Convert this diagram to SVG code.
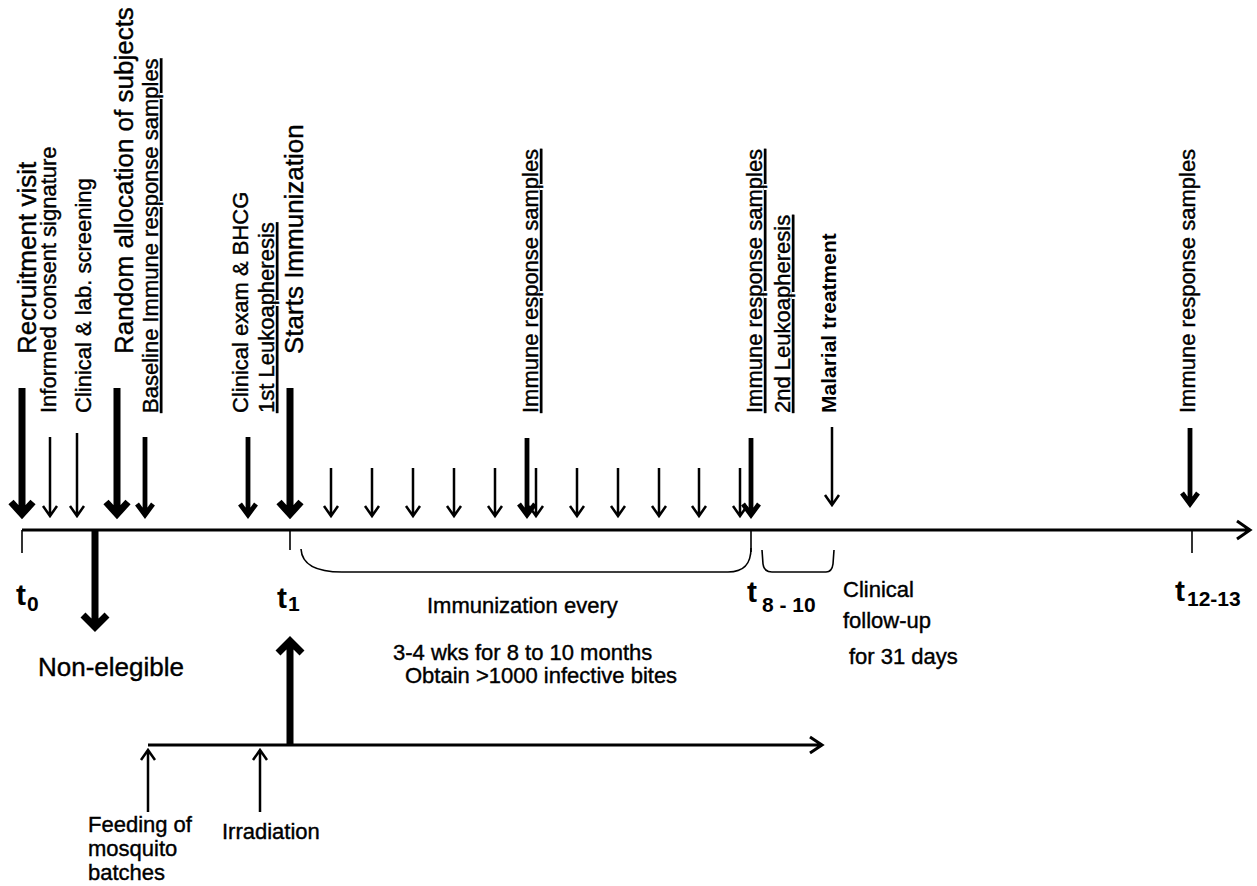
<svg xmlns="http://www.w3.org/2000/svg" width="1257" height="886" viewBox="0 0 1257 886">
<style>
text{font-family:"Liberation Sans",Arial,sans-serif;fill:#000;stroke:#000;stroke-width:0.4}
.lg{font-size:26px}
.sm{font-size:22px}
.u{text-decoration:underline}
.b{font-weight:bold;stroke-width:0}
.tt{font-size:30px;font-weight:bold;stroke-width:0}
.sub{font-size:21px;font-weight:bold;stroke-width:0}
.ax{fill:none;stroke:#000;stroke-width:3}
.tk{fill:none;stroke:#000;stroke-width:1.6}
.br{fill:none;stroke:#000;stroke-width:1.6}
.a7{fill:none;stroke:#000;stroke-width:7;stroke-linejoin:miter}
.a5{fill:none;stroke:#000;stroke-width:4.8;stroke-linejoin:miter}
.a2{fill:none;stroke:#000;stroke-width:2.5;stroke-linejoin:miter}
</style>
<rect width="1257" height="886" fill="#fff"/>
<g id="axes">
<path class="ax" d="M22 530H1250M1237 521L1250 530L1237 539"/>
<path class="ax" d="M148 745H822M810 737L822 745L810 753"/>
<path class="tk" d="M22 530V553M290 530V550M751 530V552M1192 530V553"/>
<path class="br" d="M301 549C302 566 318 572 342 572L728 572C745 572 751 563 751 548"/>
<path class="br" d="M762 550L763 564Q764 572 772 572L826 572Q832 572 833 564L834 550"/>
</g>
<g id="connectors">
<path class="a7" d="M22 388V514M11 502L22 514L33 502"/>
<path class="a7" d="M117 388V514M106 502L117 514L128 502"/>
<path class="a7" d="M290 388V514M279 502L290 514L301 502"/>
<path class="a2" d="M50 437V516M43 506L50 516L57 506"/>
<path class="a2" d="M77 433V516M70 506L77 516L84 506"/>
<path class="a5" d="M145 437V515M137 504L145 515L153 504"/>
<path class="a5" d="M248 437V515M240 504L248 515L256 504"/>
<path class="a2" d="M331 468V516M324 506L331 516L338 506"/>
<path class="a2" d="M372 468V516M365 506L372 516L379 506"/>
<path class="a2" d="M413 468V516M406 506L413 516L420 506"/>
<path class="a2" d="M454 468V516M447 506L454 516L461 506"/>
<path class="a2" d="M495 468V516M488 506L495 516L502 506"/>
<path class="a2" d="M536 468V516M529 506L536 516L543 506"/>
<path class="a2" d="M577 468V516M570 506L577 516L584 506"/>
<path class="a2" d="M618 468V516M611 506L618 516L625 506"/>
<path class="a2" d="M659 468V516M652 506L659 516L666 506"/>
<path class="a2" d="M699 468V516M692 506L699 516L706 506"/>
<path class="a2" d="M740 468V516M733 506L740 516L747 506"/>
<path class="a5" d="M527 438V515M519 504L527 515L535 504"/>
<path class="a5" d="M751 438V515M743 504L751 515L759 504"/>
<path class="a2" d="M832 427V505M825 495L832 505L839 495"/>
<path class="a5" d="M1190 428V504M1182 493L1190 504L1198 493"/>
<path class="a7" d="M95 531V627M83 615L95 627L107 615"/>
<path class="a7" d="M290 746V641M278 653L290 641L302 653"/>
<path class="a2" d="M148 812V750M141 760L148 750L155 760"/>
<path class="a2" d="M260 812V750M253 760L260 750L267 760"/>
</g>
<g id="recruitment"><text class="lg" transform="translate(36,354) rotate(-90)">Recruitment visit</text></g>
<g id="consent"><text class="sm" transform="translate(56,413) rotate(-90)">Informed consent signature</text></g>
<g id="screening"><text class="sm" transform="translate(91,413) rotate(-90)">Clinical &amp; lab. screening</text></g>
<g id="random"><text class="lg" transform="translate(133,354) rotate(-90)">Random allocation of subjects</text></g>
<g id="baseline"><text class="sm u" transform="translate(158,413) rotate(-90)">Baseline Immune response samples</text></g>
<g id="exam"><text class="sm" transform="translate(248,413) rotate(-90)">Clinical exam &amp; BHCG</text></g>
<g id="leuko1"><text class="sm u" transform="translate(274,413) rotate(-90)">1st Leukoapheresis</text></g>
<g id="starts"><text class="lg" transform="translate(303,354) rotate(-90)">Starts Immunization</text></g>
<g id="immune1"><text class="sm u" transform="translate(538,413) rotate(-90)">Immune response samples</text></g>
<g id="immune2"><text class="sm u" transform="translate(762,413) rotate(-90)">Immune response samples</text></g>
<g id="leuko2"><text class="sm u" transform="translate(790,413) rotate(-90)">2nd Leukoapheresis</text></g>
<g id="malarial"><text class="sm b" style="font-size:21px" transform="translate(836,413) rotate(-90)">Malarial treatment</text></g>
<g id="immune3"><text class="sm" transform="translate(1195,413) rotate(-90)">Immune response samples</text></g>
<g id="t0"><text class="tt" x="16" y="605">t</text><text class="sub" x="27" y="611">0</text></g>
<g id="t1"><text class="tt" x="277" y="608">t</text><text class="sub" x="288" y="611">1</text></g>
<g id="t8"><text class="tt" x="747" y="602">t</text><text class="sub" x="762" y="612">8 - 10</text></g>
<g id="t12"><text class="tt" x="1175" y="601">t</text><text class="sub" x="1187" y="606">12-13</text></g>
<g id="nonelegible"><text style="font-size:26px" x="38" y="676">Non-elegible</text></g>
<g id="immunization"><text class="sm" x="427" y="613">Immunization every</text><text class="sm" x="393" y="660">3-4 wks for 8 to 10 months</text><text class="sm" x="405" y="683">Obtain &gt;1000 infective bites</text></g>
<g id="followup"><text class="sm" x="843" y="597">Clinical</text><text class="sm" x="843" y="628">follow-up</text><text class="sm" x="849" y="664">for 31 days</text></g>
<g id="feeding"><text class="sm" x="88" y="832">Feeding of</text><text class="sm" x="88" y="856">mosquito</text><text class="sm" x="88" y="880">batches</text></g>
<g id="irradiation"><text class="sm" x="222" y="839">Irradiation</text></g>
</svg>
